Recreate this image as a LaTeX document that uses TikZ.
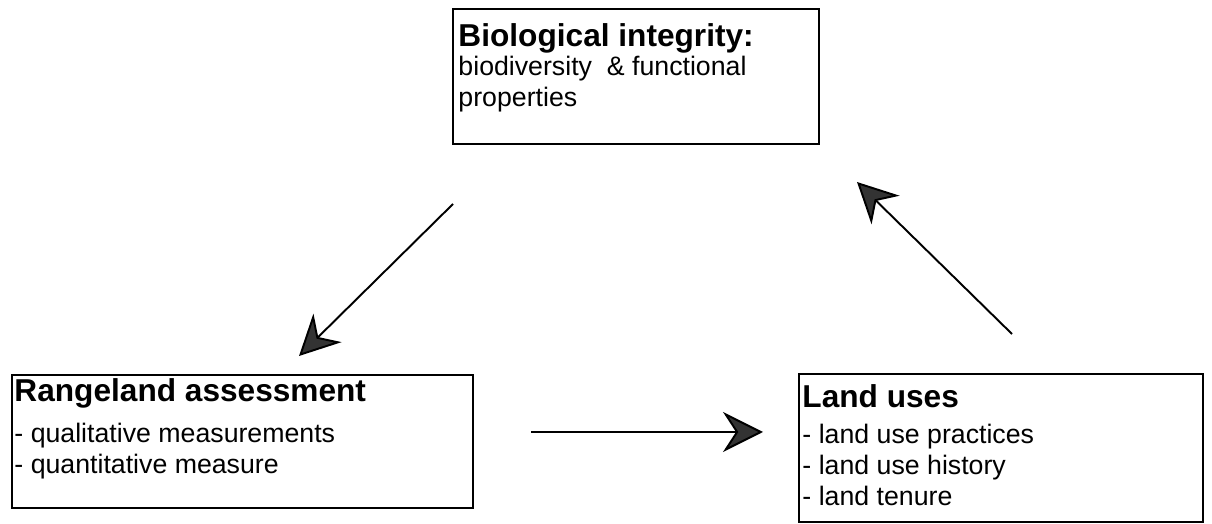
\documentclass[tikz,border=0pt]{standalone}
\usepackage{fontspec}
\setmainfont{Liberation Sans}
\usetikzlibrary{arrows.meta}

\tikzset{
  box/.style={draw, line width=1pt, rectangle, inner sep=0pt},
  boxtext/.style={anchor=north west, align=left, inner sep=0pt,
    font=\fontsize{15.2}{17.6}\selectfont},
  flow/.style={line width=1.1pt, -{Stealth[length=0.8cm, width=0.8cm, inset=0.26cm, fill=black!80]}}
}
\newcommand{\boxtitle}[1]{{\fontsize{18}{20}\selectfont\bfseries #1}}

\begin{document}
\begin{tikzpicture}
\useasboundingbox (0,0) rectangle (24.24,10.48);
% boxes
\node[box, minimum width=7.32cm, minimum height=2.70cm] (bio) at (12.72, 8.95) {};
\node[box, minimum width=9.22cm, minimum height=2.66cm] (range) at (4.85, 1.65) {};
\node[box, minimum width=8.08cm, minimum height=2.96cm] (land) at (20.02, 1.52) {};
% texts
\node[boxtext] (biotext) at ([shift={(0.12,-0.30)}]bio.north west)
  {\boxtitle{Biological integrity:}\\[-1pt] biodiversity\ \ \& functional\\ properties};
\node[boxtext] (rangetext) at ([shift={(0.06,-0.08)}]range.north west)
  {\boxtitle{Rangeland assessment}\\[6pt] - qualitative measurements\\ - quantitative measure};
\node[boxtext] (landtext) at ([shift={(0.08,-0.22)}]land.north west)
  {\boxtitle{Land uses}\\[3pt] - land use practices\\ - land use history\\ - land tenure};
% arrows
\coordinate (a1s) at (9.06, 6.40);
\coordinate (a1e) at (5.98, 3.36);
\coordinate (a2s) at (20.24, 3.80);
\coordinate (a2e) at (17.14, 6.84);
\coordinate (a3s) at (10.62, 1.84);
\coordinate (a3e) at (15.26, 1.84);
\draw[flow] (a1s) -- (a1e);
\draw[flow] (a2s) -- (a2e);
\draw[flow] (a3s) -- (a3e);
\end{tikzpicture}
\end{document}
